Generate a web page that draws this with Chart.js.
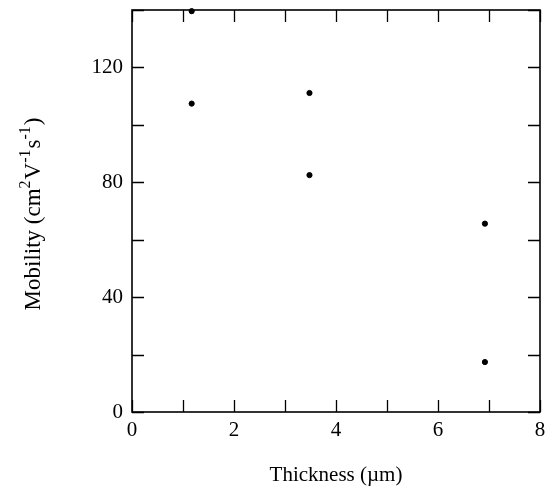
<!DOCTYPE html>
<html>
<head>
<meta charset="utf-8">
<script src="https://cdn.jsdelivr.net/npm/chart.js@4/dist/chart.umd.min.js"></script>
<style>
html,body{margin:0;padding:0;background:#fff;}
#wrap{width:545px;height:488px;position:relative;}
</style>
</head>
<body>
<div id="wrap"><canvas id="c" width="545" height="488"></canvas></div>
<script>
const thickness = [1.17, 1.17, 3.48, 3.48, 6.92, 6.92];
const mobility = [139.6, 107.4, 111.1, 82.5, 65.6, 17.4];
const xLabelTicks = [0, 2, 4, 6, 8];
const yLabelTicks = [0, 40, 80, 120];
const yTitleParts = [['Mobility (cm', false], ['2', true], ['V', false], ['-1', true], ['s', false], ['-1', true], [')', false]];

const FONT = "'Liberation Serif', 'Times New Roman', serif";

const boxPlugin = {
  id: 'boxTicks',
  afterDatasetsDraw(chart) {
    const {ctx, chartArea: a, scales: {x, y}} = chart;
    ctx.save();
    ctx.strokeStyle = '#000';
    ctx.lineWidth = 1.6;
    ctx.strokeRect(a.left, a.top, a.right - a.left, a.bottom - a.top);
    const L = 12;
    ctx.lineWidth = 1.3;
    ctx.beginPath();
    x.ticks.forEach(t => {
      const px = Math.round(x.getPixelForValue(t.value)) + 0.5;
      ctx.moveTo(px, a.bottom); ctx.lineTo(px, a.bottom - L);
      ctx.moveTo(px, a.top); ctx.lineTo(px, a.top + L);
    });
    y.ticks.forEach(t => {
      const py = Math.round(y.getPixelForValue(t.value)) + 0.5;
      ctx.moveTo(a.left, py); ctx.lineTo(a.left + L, py);
      ctx.moveTo(a.right, py); ctx.lineTo(a.right - L, py);
    });
    ctx.stroke();

    // y-axis title with superscripts
    const big = '23px ' + FONT, small = '16px ' + FONT;
    let total = 0;
    yTitleParts.forEach(([s, sup]) => { ctx.font = sup ? small : big; total += ctx.measureText(s).width + (sup ? 1 : 0); });
    const cy = (a.top + a.bottom) / 2 + 3;
    ctx.translate(40, cy);
    ctx.rotate(-Math.PI / 2);
    ctx.fillStyle = '#000';
    ctx.textBaseline = 'alphabetic';
    ctx.textAlign = 'left';
    let pos = -total / 2;
    yTitleParts.forEach(([s, sup]) => {
      ctx.font = sup ? small : big;
      ctx.fillText(s, pos, sup ? -10 : 0);
      pos += ctx.measureText(s).width + (sup ? 1 : 0);
    });
    ctx.restore();
  }
};

new Chart(document.getElementById('c'), {
  type: 'scatter',
  data: {
    datasets: [{
      data: thickness.map((t, i) => ({x: t, y: mobility[i]})),
      backgroundColor: '#000',
      borderColor: '#000',
      pointRadius: 2.6,
      pointHoverRadius: 2.6,
      clip: false
    }]
  },
  options: {
    responsive: false,
    animation: false,
    devicePixelRatio: 1,
    layout: {padding: {top: 10, right: 5, left: 0, bottom: 0}},
    plugins: {legend: {display: false}, tooltip: {enabled: false}},
    scales: {
      x: {
        type: 'linear', min: 0, max: 8,
        grid: {display: false, drawTicks: false},
        border: {display: false},
        ticks: {
          stepSize: 1, padding: 6, color: '#000',
          font: {family: FONT, size: 21},
          callback: v => xLabelTicks.includes(v) ? String(v) : ''
        },
        title: {display: true, text: 'Thickness (µm)', color: '#000',
          font: {family: FONT, size: 21}, padding: {top: 14, bottom: 0}},
        afterFit: s => { s.height = 76; s.paddingLeft = 0; s.paddingRight = 0; }
      },
      y: {
        type: 'linear', min: 0, max: 140,
        grid: {display: false, drawTicks: false},
        border: {display: false},
        ticks: {
          stepSize: 20, padding: 9, color: '#000',
          font: {family: FONT, size: 21},
          callback: v => yLabelTicks.includes(v) ? String(v) : ''
        },
        title: {display: false},
        afterFit: s => { s.width = 132; s.paddingTop = 0; s.paddingBottom = 0; }
      }
    }
  },
  plugins: [boxPlugin]
});
</script>
</body>
</html>
